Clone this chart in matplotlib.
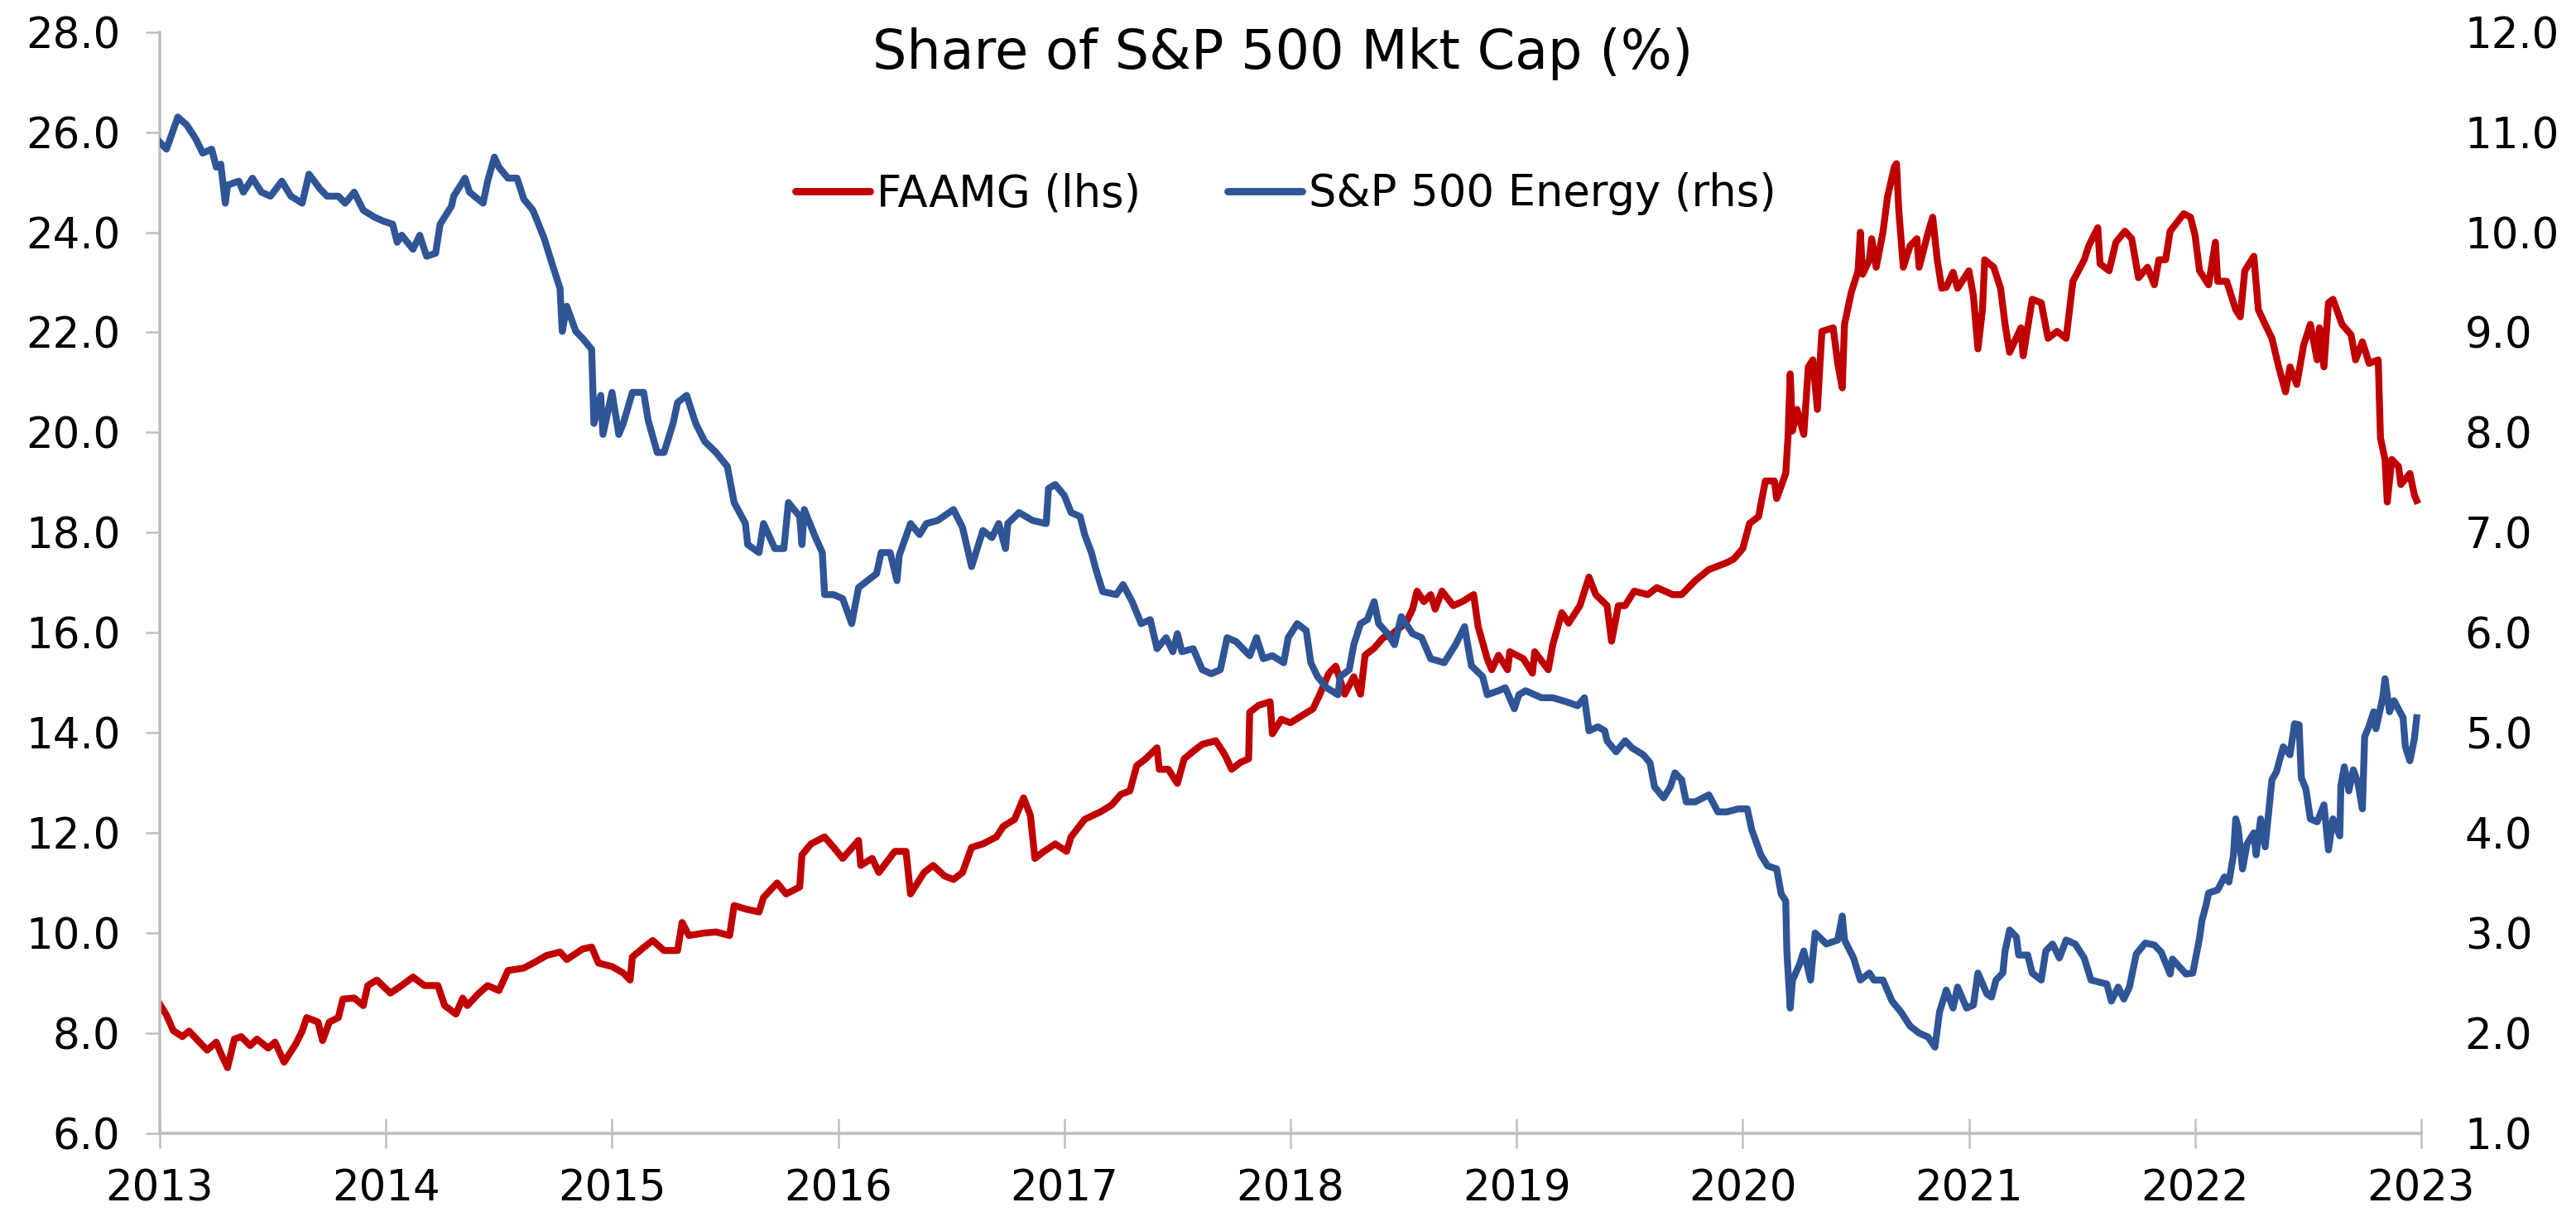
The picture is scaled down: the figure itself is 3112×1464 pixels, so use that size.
import matplotlib
matplotlib.use("Agg")
import matplotlib.pyplot as plt
from matplotlib.lines import Line2D

# ---------------- data ----------------
faamg_t = [2013.00, 2013.03, 2013.06, 2013.10, 2013.13, 2013.18, 2013.21, 2013.25, 2013.27, 2013.30,
           2013.33, 2013.36, 2013.40, 2013.43, 2013.48, 2013.51, 2013.55, 2013.60, 2013.63, 2013.65,
           2013.70, 2013.72, 2013.75, 2013.79, 2013.81, 2013.86, 2013.90, 2013.92, 2013.96, 2014.02,
           2014.07, 2014.12, 2014.17, 2014.23, 2014.26, 2014.31, 2014.34, 2014.36, 2014.41, 2014.45,
           2014.50, 2014.54, 2014.61, 2014.66, 2014.71, 2014.77, 2014.80, 2014.87, 2014.91, 2014.94,
           2015.00, 2015.05, 2015.08, 2015.09, 2015.14, 2015.18, 2015.23, 2015.29, 2015.31, 2015.34,
           2015.41, 2015.46, 2015.52, 2015.54, 2015.59, 2015.65, 2015.67, 2015.73, 2015.77, 2015.83,
           2015.84, 2015.88, 2015.94, 2015.98, 2016.02, 2016.09, 2016.10, 2016.15, 2016.18, 2016.25,
           2016.30, 2016.32, 2016.38, 2016.42, 2016.47, 2016.51, 2016.55, 2016.59, 2016.64, 2016.70,
           2016.73, 2016.78, 2016.82, 2016.85, 2016.87, 2016.91, 2016.96, 2017.01, 2017.03, 2017.09,
           2017.16, 2017.21, 2017.25, 2017.29, 2017.32, 2017.36, 2017.41, 2017.42, 2017.46, 2017.50,
           2017.53, 2017.57, 2017.61, 2017.67, 2017.71, 2017.74, 2017.78, 2017.815, 2017.82, 2017.86,
           2017.91, 2017.92, 2017.96, 2018.00, 2018.05, 2018.10, 2018.13, 2018.17, 2018.20, 2018.24,
           2018.28, 2018.31, 2018.33, 2018.37, 2018.41, 2018.45, 2018.47, 2018.51, 2018.54, 2018.56,
           2018.59, 2018.62, 2018.64, 2018.67, 2018.72, 2018.76, 2018.81, 2018.83, 2018.87, 2018.89,
           2018.92, 2018.96, 2018.97, 2019.03, 2019.07, 2019.08, 2019.14, 2019.16, 2019.20, 2019.23,
           2019.28, 2019.32, 2019.35, 2019.40, 2019.42, 2019.45, 2019.48, 2019.52, 2019.58, 2019.62,
           2019.69, 2019.73, 2019.79, 2019.85, 2019.93, 2019.96, 2020.00, 2020.03, 2020.07, 2020.10,
           2020.14, 2020.15, 2020.19, 2020.20, 2020.21, 2020.22, 2020.24, 2020.27, 2020.29, 2020.31,
           2020.33, 2020.35, 2020.40, 2020.42, 2020.44, 2020.45, 2020.48, 2020.51, 2020.52, 2020.53,
           2020.56, 2020.57, 2020.59, 2020.62, 2020.64, 2020.67, 2020.68, 2020.69, 2020.71, 2020.74,
           2020.77, 2020.78, 2020.82, 2020.84, 2020.86, 2020.88, 2020.90, 2020.93, 2020.95, 2021.00,
           2021.02, 2021.04, 2021.06, 2021.07, 2021.11, 2021.14, 2021.16, 2021.18, 2021.23, 2021.24,
           2021.28, 2021.32, 2021.35, 2021.39, 2021.43, 2021.46, 2021.51, 2021.53, 2021.57, 2021.58,
           2021.62, 2021.65, 2021.69, 2021.72, 2021.75, 2021.79, 2021.82, 2021.84, 2021.87, 2021.89,
           2021.95, 2021.98, 2022.00, 2022.02, 2022.06, 2022.09, 2022.10, 2022.14, 2022.18, 2022.20,
           2022.22, 2022.26, 2022.28, 2022.31, 2022.34, 2022.37, 2022.40, 2022.42, 2022.45, 2022.48,
           2022.51, 2022.54, 2022.55, 2022.57, 2022.59, 2022.61, 2022.65, 2022.69, 2022.71, 2022.74,
           2022.77, 2022.81, 2022.82, 2022.84, 2022.85, 2022.87, 2022.90, 2022.91, 2022.95, 2022.97,
           2022.98]
faamg_v = [8.58, 8.36, 8.05, 7.93, 8.04, 7.80, 7.66, 7.82, 7.60, 7.31,
           7.88, 7.93, 7.75, 7.88, 7.70, 7.82, 7.42, 7.77, 8.04, 8.31,
           8.22, 7.85, 8.22, 8.31, 8.68, 8.70, 8.55, 8.95, 9.06, 8.80,
           8.95, 9.12, 8.95, 8.95, 8.55, 8.38, 8.70, 8.55, 8.79, 8.95,
           8.85, 9.25, 9.30, 9.42, 9.55, 9.62, 9.47, 9.68, 9.72, 9.40,
           9.33, 9.20, 9.06, 9.52, 9.71, 9.85, 9.65, 9.65, 10.21, 9.95,
           10.00, 10.02, 9.95, 10.55, 10.48, 10.42, 10.71, 11.00, 10.78, 10.92,
           11.56, 11.78, 11.92, 11.71, 11.49, 11.85, 11.35, 11.49, 11.21, 11.63,
           11.63, 10.78, 11.21, 11.35, 11.14, 11.07, 11.21, 11.71, 11.78, 11.92,
           12.13, 12.27, 12.70, 12.35, 11.49, 11.63, 11.78, 11.63, 11.92, 12.27,
           12.42, 12.56, 12.77, 12.84, 13.34, 13.48, 13.70, 13.27, 13.27, 12.99,
           13.48, 13.63, 13.77, 13.84, 13.56, 13.27, 13.41, 13.48, 14.41, 14.55,
           14.62, 13.98, 14.27, 14.20, 14.34, 14.48, 14.77, 15.19, 15.33, 14.77,
           15.12, 14.77, 15.55, 15.69, 15.90, 15.97, 16.05, 16.19, 16.47, 16.83,
           16.62, 16.76, 16.47, 16.83, 16.54, 16.62, 16.76, 16.12, 15.48, 15.26,
           15.55, 15.26, 15.62, 15.48, 15.19, 15.62, 15.26, 15.76, 16.40, 16.19,
           16.54, 17.11, 16.76, 16.54, 15.83, 16.54, 16.54, 16.83, 16.76, 16.90,
           16.76, 16.76, 17.04, 17.26, 17.40, 17.47, 17.68, 18.18, 18.32, 19.03,
           19.03, 18.68, 19.18, 19.89, 21.17, 20.03, 20.46, 19.96, 21.31, 21.45,
           20.46, 22.02, 22.09, 21.38, 20.89, 22.16, 22.80, 23.23, 24.00, 23.16,
           23.45, 23.87, 23.30, 24.00, 24.70, 25.30, 25.37, 24.44, 23.30, 23.73,
           23.87, 23.30, 24.00, 24.30, 23.45, 22.88, 22.90, 23.20, 22.88, 23.23,
           22.73, 21.67, 22.45, 23.45, 23.30, 22.88, 22.16, 21.60, 22.09, 21.53,
           22.66, 22.59, 21.88, 22.02, 21.88, 23.02, 23.45, 23.73, 24.09, 23.37,
           23.23, 23.80, 24.02, 23.87, 23.09, 23.30, 22.95, 23.45, 23.45, 24.02,
           24.37, 24.30, 23.94, 23.23, 22.95, 23.80, 23.02, 23.02, 22.45, 22.31,
           23.23, 23.52, 22.45, 22.16, 21.88, 21.31, 20.81, 21.31, 20.96, 21.74,
           22.16, 21.45, 22.09, 21.31, 22.59, 22.66, 22.16, 21.95, 21.45, 21.81,
           21.38, 21.45, 19.89, 19.46, 18.61, 19.46, 19.32, 18.96, 19.18, 18.75,
           18.64]

energy_t = [2013.00, 2013.03, 2013.08, 2013.12, 2013.16, 2013.19, 2013.23, 2013.25, 2013.27, 2013.29,
            2013.30, 2013.35, 2013.37, 2013.41, 2013.45, 2013.49, 2013.54, 2013.58, 2013.63, 2013.66,
            2013.71, 2013.74, 2013.79, 2013.82, 2013.86, 2013.90, 2013.95, 2013.99, 2014.03, 2014.05,
            2014.07, 2014.12, 2014.15, 2014.18, 2014.22, 2014.24, 2014.29, 2014.30, 2014.35, 2014.37,
            2014.43, 2014.45, 2014.48, 2014.50, 2014.54, 2014.58, 2014.61, 2014.65, 2014.70, 2014.73,
            2014.77, 2014.78, 2014.80, 2014.84, 2014.87, 2014.91, 2014.92, 2014.95, 2014.96, 2015.00,
            2015.03, 2015.05, 2015.09, 2015.14, 2015.16, 2015.20, 2015.23, 2015.27, 2015.29, 2015.33,
            2015.37, 2015.41, 2015.46, 2015.51, 2015.54, 2015.59, 2015.60, 2015.65, 2015.67, 2015.72,
            2015.76, 2015.78, 2015.83, 2015.84, 2015.85, 2015.90, 2015.93, 2015.94, 2015.98, 2016.02,
            2016.06, 2016.09, 2016.13, 2016.17, 2016.19, 2016.23, 2016.26, 2016.27, 2016.32, 2016.36,
            2016.39, 2016.44, 2016.51, 2016.55, 2016.59, 2016.64, 2016.68, 2016.71, 2016.74, 2016.75,
            2016.80, 2016.86, 2016.92, 2016.93, 2016.96, 2017.00, 2017.03, 2017.07, 2017.09, 2017.12,
            2017.14, 2017.17, 2017.23, 2017.26, 2017.30, 2017.34, 2017.38, 2017.41, 2017.45, 2017.48,
            2017.50, 2017.52, 2017.57, 2017.61, 2017.65, 2017.69, 2017.72, 2017.76, 2017.82, 2017.85,
            2017.88, 2017.92, 2017.97, 2017.99, 2018.03, 2018.07, 2018.09, 2018.12, 2018.16, 2018.21,
            2018.22, 2018.26, 2018.28, 2018.31, 2018.34, 2018.37, 2018.39, 2018.43, 2018.46, 2018.49,
            2018.54, 2018.58, 2018.62, 2018.68, 2018.73, 2018.77, 2018.80, 2018.85, 2018.87, 2018.92,
            2018.95, 2018.99, 2019.01, 2019.04, 2019.11, 2019.16, 2019.22, 2019.27, 2019.30, 2019.32,
            2019.36, 2019.39, 2019.40, 2019.44, 2019.48, 2019.51, 2019.56, 2019.59, 2019.61, 2019.65,
            2019.68, 2019.70, 2019.73, 2019.75, 2019.79, 2019.85, 2019.89, 2019.93, 2019.98, 2020.02,
            2020.04, 2020.08, 2020.11, 2020.15, 2020.17, 2020.19, 2020.195, 2020.21, 2020.22, 2020.25,
            2020.27, 2020.30, 2020.32, 2020.37, 2020.42, 2020.44, 2020.45, 2020.49, 2020.52, 2020.56,
            2020.58, 2020.62, 2020.66, 2020.70, 2020.74, 2020.78, 2020.82, 2020.85, 2020.87, 2020.90,
            2020.93, 2020.95, 2020.99, 2021.02, 2021.04, 2021.08, 2021.10, 2021.12, 2021.15, 2021.16,
            2021.18, 2021.21, 2021.22, 2021.26, 2021.28, 2021.32, 2021.34, 2021.37, 2021.40, 2021.43,
            2021.47, 2021.51, 2021.54, 2021.61, 2021.63, 2021.66, 2021.685, 2021.71, 2021.74, 2021.78,
            2021.82, 2021.85, 2021.89, 2021.90, 2021.96, 2021.99, 2022.02, 2022.03, 2022.05, 2022.06,
            2022.10, 2022.13, 2022.15, 2022.17, 2022.18, 2022.19, 2022.21, 2022.23, 2022.26, 2022.27,
            2022.29, 2022.31, 2022.34, 2022.36, 2022.39, 2022.42, 2022.44, 2022.46, 2022.47, 2022.49,
            2022.51, 2022.54, 2022.57, 2022.59, 2022.61, 2022.64, 2022.645, 2022.66, 2022.68, 2022.70,
            2022.72, 2022.74, 2022.75, 2022.77, 2022.79, 2022.80, 2022.83, 2022.84, 2022.86, 2022.88,
            2022.92, 2022.93, 2022.95, 2022.97, 2022.98]
energy_v = [10.90, 10.83, 11.15, 11.07, 10.93, 10.79, 10.83, 10.65, 10.68, 10.29,
            10.47, 10.51, 10.40, 10.54, 10.40, 10.36, 10.51, 10.36, 10.29, 10.58,
            10.43, 10.36, 10.36, 10.29, 10.40, 10.22, 10.15, 10.11, 10.08, 9.90,
            9.97, 9.83, 9.97, 9.76, 9.79, 10.08, 10.26, 10.36, 10.54, 10.40,
            10.29, 10.51, 10.75, 10.65, 10.54, 10.54, 10.33, 10.22, 9.94, 9.72,
            9.44, 9.01, 9.26, 9.01, 8.94, 8.83, 8.09, 8.37, 7.98, 8.40,
            7.98, 8.09, 8.40, 8.40, 8.12, 7.80, 7.80, 8.09, 8.30, 8.37,
            8.09, 7.91, 7.80, 7.66, 7.30, 7.09, 6.88, 6.80, 7.09, 6.84,
            6.84, 7.30, 7.16, 6.88, 7.23, 6.95, 6.80, 6.38, 6.38, 6.34,
            6.09, 6.45, 6.52, 6.59, 6.80, 6.80, 6.52, 6.77, 7.09, 6.98,
            7.09, 7.12, 7.23, 7.05, 6.66, 7.02, 6.95, 7.09, 6.84, 7.09,
            7.20, 7.12, 7.09, 7.44, 7.48, 7.37, 7.20, 7.16, 6.98, 6.80,
            6.63, 6.41, 6.38, 6.48, 6.31, 6.09, 6.13, 5.84, 5.95, 5.81,
            5.99, 5.81, 5.84, 5.63, 5.59, 5.63, 5.95, 5.91, 5.77, 5.95,
            5.74, 5.77, 5.70, 5.95, 6.09, 6.02, 5.70, 5.56, 5.45, 5.38,
            5.56, 5.63, 5.88, 6.09, 6.13, 6.31, 6.09, 5.99, 5.88, 6.16,
            5.99, 5.95, 5.74, 5.70, 5.88, 6.06, 5.67, 5.56, 5.38, 5.42,
            5.45, 5.24, 5.38, 5.42, 5.35, 5.35, 5.31, 5.27, 5.35, 5.02,
            5.06, 5.02, 4.92, 4.81, 4.92, 4.85, 4.78, 4.70, 4.46, 4.35,
            4.46, 4.60, 4.53, 4.31, 4.31, 4.38, 4.21, 4.21, 4.24, 4.24,
            4.03, 3.78, 3.67, 3.64, 3.39, 3.32, 2.82, 2.25, 2.53, 2.68,
            2.82, 2.53, 3.00, 2.89, 2.93, 3.17, 2.93, 2.75, 2.53, 2.60,
            2.53, 2.53, 2.32, 2.21, 2.07, 2.00, 1.96, 1.86, 2.21, 2.43,
            2.25, 2.46, 2.25, 2.28, 2.60, 2.39, 2.36, 2.53, 2.60, 2.82,
            3.03, 2.96, 2.78, 2.78, 2.60, 2.53, 2.82, 2.89, 2.75, 2.93,
            2.89, 2.75, 2.53, 2.49, 2.32, 2.46, 2.34, 2.46, 2.79, 2.90,
            2.88, 2.81, 2.59, 2.74, 2.59, 2.60, 2.95, 3.12, 3.29, 3.40,
            3.43, 3.56, 3.51, 3.78, 4.14, 4.06, 3.64, 3.89, 4.00, 3.78,
            4.14, 3.86, 4.53, 4.61, 4.86, 4.78, 5.09, 5.08, 4.55, 4.44,
            4.14, 4.11, 4.28, 3.83, 4.14, 3.97, 4.47, 4.66, 4.42, 4.63,
            4.50, 4.24, 4.96, 5.07, 5.21, 5.04, 5.35, 5.54, 5.21, 5.32,
            5.15, 4.86, 4.72, 4.94, 5.15]

year_ticks = list(range(2013, 2024))
left_ticks = [6, 8, 10, 12, 14, 16, 18, 20, 22, 24, 26, 28]
right_ticks = [1, 2, 3, 4, 5, 6, 7, 8, 9, 10, 11, 12]

title = "Share of S&P 500 Mkt Cap (%)"
label_faamg = "FAAMG (lhs)"
label_energy = "S&P 500 Energy (rhs)"

# ---------------- styling ----------------
RED = "#C00000"
BLUE = "#2F5597"
GREY = "#BFBFBF"
plt.rcParams["font.family"] = ["DejaVu Sans"]

fig = plt.figure(figsize=(15.56, 7.32), dpi=200)
ax = fig.add_axes([0.0620, 0.0650, 0.8779, 0.9086])
ax2 = ax.twinx()

ax.plot(faamg_t, faamg_v, color=RED, lw=3.0, solid_joinstyle="round")
ax2.plot(energy_t, energy_v, color=BLUE, lw=3.0, solid_joinstyle="round")

ax.set_xlim(2013, 2023)
ax.set_ylim(6, 28)
ax2.set_ylim(1, 12)

ax.set_xticks(year_ticks)
ax.set_xticklabels([str(y) for y in year_ticks])
ax.set_yticks(left_ticks)
ax.set_yticklabels([f"{v:.1f}" for v in left_ticks])
ax2.set_yticks(right_ticks)
ax2.set_yticklabels([f"{v:.1f}" for v in right_ticks])

for a in (ax, ax2):
    a.spines["top"].set_visible(False)
    a.spines["right"].set_visible(False)
    a.set_facecolor("none")
ax2.spines["left"].set_visible(False)
ax2.spines["bottom"].set_visible(False)
ax.spines["left"].set_color(GREY)
ax.spines["bottom"].set_color(GREY)
ax.spines["left"].set_linewidth(1.3)
ax.spines["bottom"].set_linewidth(1.3)

fs = 18.5
ax.tick_params(axis="y", direction="out", length=6.1, width=0.9, color=GREY,
               labelsize=fs, pad=11)
ax.tick_params(axis="x", direction="inout", length=13, width=0.9, color=GREY,
               labelsize=fs, pad=9)
ax2.tick_params(axis="y", length=0, labelsize=fs, pad=19)

fig.text(0.498, 0.9433, title, ha="center", va="baseline", fontsize=23.5)

handles = [Line2D([], [], color=RED, lw=3.2, solid_capstyle="round"),
           Line2D([], [], color=BLUE, lw=3.2, solid_capstyle="round")]
ax2.legend(handles, [label_faamg, label_energy], loc="center",
           bbox_to_anchor=(0.498, 0.853), ncol=2, frameon=False, fontsize=19,
           handlelength=1.7, handletextpad=0.15, columnspacing=2.0,
           borderaxespad=0, borderpad=0)

fig.savefig("out.png", dpi=200, facecolor="white")
